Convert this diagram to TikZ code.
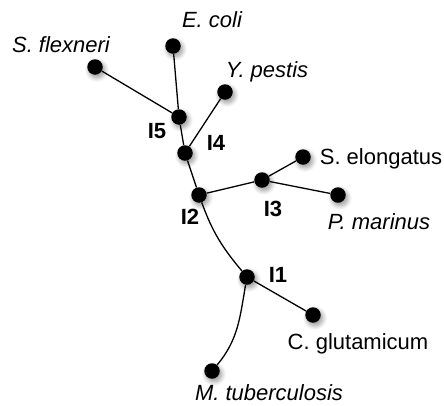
\documentclass[tikz,border=0pt]{standalone}
\usepackage{fontspec}
\setmainfont{Liberation Sans}
\usetikzlibrary{shadows.blur}
\begin{document}
\begin{tikzpicture}[x=1pt,y=-1pt,
  dot/.style={circle,fill=black,inner sep=0pt,minimum size=15.5pt,
    blur shadow={shadow xshift=2pt,shadow yshift=-3pt,shadow opacity=40,shadow blur steps=8,shadow blur radius=4.5pt}},
  lbl/.style={font=\fontsize{22}{26}\selectfont,inner sep=0pt,text height=15.8pt,text depth=0pt,anchor=center},
  ital/.style={lbl,font=\fontsize{22}{26}\selectfont\itshape},
  inl/.style={lbl,font=\fontsize{22}{26}\selectfont\bfseries},
  edge/.style={draw=black,line width=1.3pt}]
\useasboundingbox (0,0) rectangle (444,405);
% dots
\node[dot] (ecoli) at (173,46) {};
\node[dot] (sflex) at (95,67) {};
\node[dot] (ypest) at (225,92) {};
\node[dot] (i5) at (179,117) {};
\node[dot] (i4) at (185,153) {};
\node[dot] (i2) at (199,195) {};
\node[dot] (i3) at (262,180) {};
\node[dot] (selong) at (303,157) {};
\node[dot] (pmar) at (338,195) {};
\node[dot] (i1) at (247,277) {};
\node[dot] (cglut) at (313,315) {};
\node[dot] (mtub) at (212,371) {};
% edges
\draw[edge] (ecoli) -- (i5);
\draw[edge] (sflex) -- (i5);
\draw[edge] (i5) -- (i4);
\draw[edge] (ypest) -- (i4);
\draw[edge] (i4) -- (i2);
\draw[edge] (i2) -- (i3);
\draw[edge] (i3) -- (selong);
\draw[edge] (i3) -- (pmar);
\draw[edge] (i2) to[out=-70,in=130] (i1);
\draw[edge] (i1) -- (cglut);
\draw[edge] (i1) to[out=-100,in=50] (mtub);
% labels
\node[ital] (tecoli) at (212,20) {E. coli};
\node[ital] (tsflex) at (61,45) {S. flexneri};
\node[ital] (typest) at (267,70) {Y. pestis};
\node[lbl] (tselong) at (381,157) {S. elongatus};
\node[ital] (tpmar) at (379,222) {P. marinus};
\node[inl] (ti5) at (157,131) {I5};
\node[inl] (ti4) at (216,143) {I4};
\node[inl] (ti2) at (190,217) {I2};
\node[inl] (ti3) at (273,209) {I3};
\node[inl] (ti1) at (278,275) {I1};
\node[lbl] (tcglut) at (358,342) {C. glutamicum};
\node[ital] (tmtub) at (269,393) {M. tuberculosis};
\end{tikzpicture}
\end{document}
